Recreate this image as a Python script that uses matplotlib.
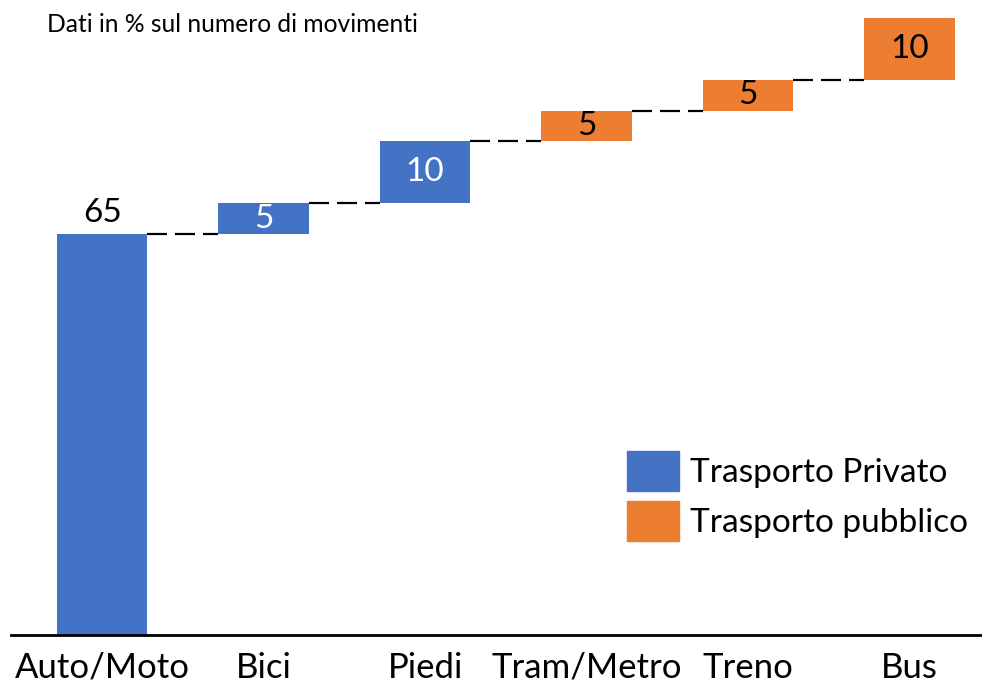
import numpy as np
import matplotlib.pyplot as plt
from matplotlib.patches import Patch

plt.rcParams['font.family'] = ['Lato', 'DejaVu Sans']

categories = ['Auto/Moto', 'Bici', 'Piedi', 'Tram/Metro', 'Treno', 'Bus']
values = [65, 5, 10, 5, 5, 10]
groups = ['priv', 'priv', 'priv', 'pub', 'pub', 'pub']

colors = {'priv': '#4472C4', 'pub': '#ED7D31'}
names = {'priv': 'Trasporto Privato', 'pub': 'Trasporto pubblico'}

vals = np.array(values)
bottoms = np.concatenate([[0], np.cumsum(vals)[:-1]])
tops = bottoms + vals
x = np.arange(len(categories))
w = 0.56

fig = plt.figure(figsize=(9.82, 6.84), dpi=100)
ax = fig.add_axes([11/982, 1 - 635/684, 1 - 11/982, (635 - 18) / 684])

ax.bar(x, vals, bottom=bottoms, width=w,
       color=[colors[g] for g in groups], zorder=2)

# connectors
for i in range(len(x) - 1):
    ax.plot([x[i] + w/2, x[i+1] - w/2], [tops[i], tops[i]],
            color='black', lw=1.6, linestyle=(0, (9, 3.6)), zorder=1)

# value labels
for i in range(len(x)):
    if i == 0:
        ax.text(x[i], tops[i] + 1.0, str(values[i]), ha='center', va='bottom',
                fontsize=24, color='black')
    else:
        c = 'white' if groups[i] == 'priv' else 'black'
        ax.text(x[i], bottoms[i] + vals[i]/2, str(values[i]), ha='center',
                va='center', fontsize=24, color=c)

ax.set_xlim(-0.565, 5.45)
ax.set_ylim(0, 100)
ax.set_xticks(x)
ax.set_xticklabels(categories, fontsize=25)
ax.tick_params(axis='x', length=0, pad=12)
ax.set_yticks([])
for s in ['top', 'right', 'left']:
    ax.spines[s].set_visible(False)
ax.spines['bottom'].set_linewidth(2)

handles = [Patch(color=colors[g], label=names[g]) for g in ['priv', 'pub']]
fig.legend(handles=handles, loc='upper left',
           bbox_to_anchor=(627/982, 1 - 451/684), frameon=False, fontsize=24,
           handlelength=1.56, handleheight=1.47, handletextpad=0.33,
           labelspacing=0.3, borderpad=0, borderaxespad=0)

fig.text(47/982, 1 - 25/684, 'Dati in % sul numero di movimenti',
         fontsize=17.7, va='center', ha='left')

fig.savefig('out.png', dpi=100)
